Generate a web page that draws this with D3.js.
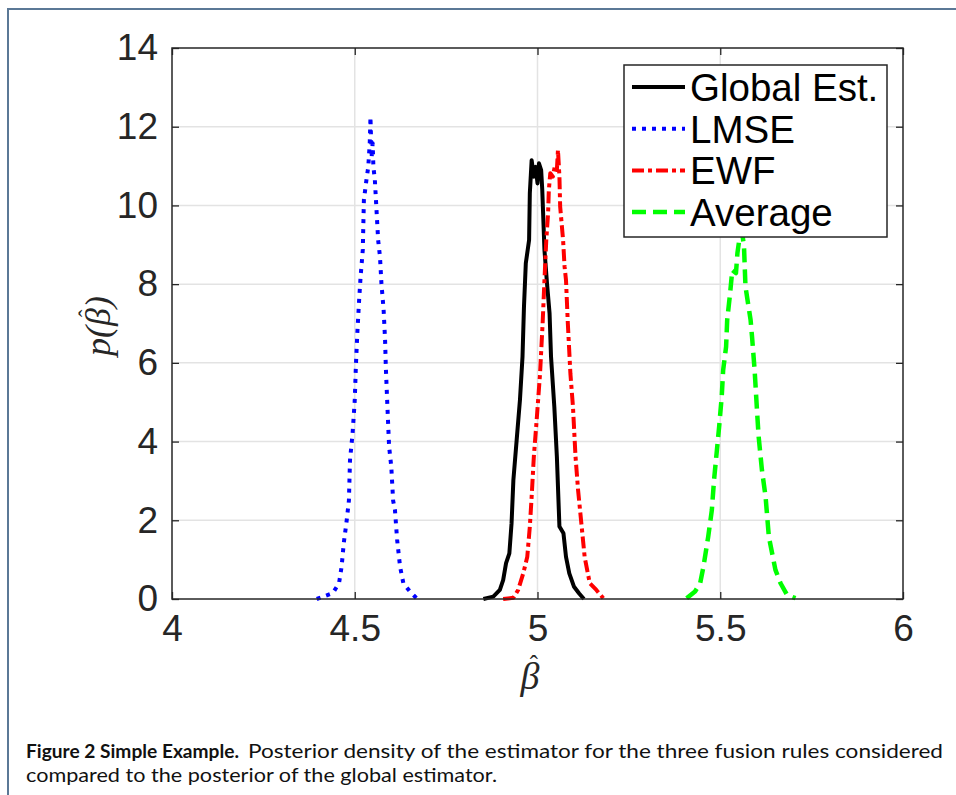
<!DOCTYPE html>
<html>
<head>
<meta charset="utf-8">
<script src="https://cdn.jsdelivr.net/npm/d3@7"></script>
<style>
  body { margin: 0; background: #fff; }
  svg { display: block; }
</style>
</head>
<body>
<div id="chart"></div>
<script>
// values (beta-hat, density)
let globalX = [4.852, 4.879, 4.897, 4.906, 4.914, 4.923, 4.929, 4.934, 4.943, 4.952, 4.959, 4.963, 4.968, 4.977, 4.979, 4.984, 4.990, 4.995, 5.000, 5.004, 5.010, 5.013, 5.019, 5.026, 5.033, 5.037, 5.046, 5.053, 5.060, 5.071, 5.078, 5.087, 5.100, 5.114, 5.127]
let globalY = [0, 0.06, 0.23, 0.48, 0.91, 1.16, 1.92, 3.02, 4.04, 5.06, 6.16, 7.43, 8.53, 9.12, 10.31, 11.15, 10.73, 10.98, 10.56, 11.07, 10.90, 10.40, 8.87, 8.02, 7.26, 6.16, 4.89, 3.62, 1.84, 1.67, 1.07, 0.65, 0.31, 0.14, 0]

let lmseX = [4.396, 4.440, 4.457, 4.464, 4.470, 4.478, 4.484, 4.487, 4.494, 4.500, 4.503, 4.507, 4.512, 4.516, 4.522, 4.525, 4.532, 4.537, 4.541, 4.543, 4.546, 4.549, 4.551, 4.555, 4.558, 4.562, 4.564, 4.569, 4.573, 4.579, 4.583, 4.585, 4.589, 4.594, 4.600, 4.605, 4.610, 4.616, 4.624, 4.633, 4.651, 4.669]
let lmseY = [0, 0.15, 0.40, 0.82, 1.42, 2.00, 2.50, 3.53, 4.20, 5.05, 5.90, 6.75, 7.60, 8.19, 8.87, 10.14, 10.65, 10.98, 11.58, 12.25, 11.20, 11.58, 10.98, 10.65, 10.14, 9.46, 9.12, 8.70, 8.02, 7.34, 6.58, 5.90, 4.97, 3.87, 3.36, 2.50, 2.26, 1.50, 0.82, 0.40, 0.19, 0.02]

let ewfX = [4.906, 4.934, 4.947, 4.961, 4.972, 4.979, 4.984, 4.990, 4.997, 5.007, 5.014, 5.019, 5.024, 5.029, 5.031, 5.035, 5.042, 5.047, 5.053, 5.056, 5.060, 5.062, 5.070, 5.074, 5.078, 5.083, 5.090, 5.097, 5.104, 5.111, 5.120, 5.129, 5.143, 5.161, 5.180]
let ewfY = [0, 0.03, 0.23, 0.65, 1.07, 1.84, 2.60, 3.62, 4.46, 5.73, 7.00, 8.10, 9.12, 9.80, 10.39, 10.82, 10.73, 10.98, 10.90, 11.41, 10.73, 9.97, 9.12, 8.45, 8.10, 7.00, 5.73, 4.89, 3.62, 2.77, 1.92, 1.07, 0.40, 0.23, 0.02]

let avgX = [5.408, 5.431, 5.445, 5.454, 5.467, 5.477, 5.483, 5.490, 5.497, 5.504, 5.508, 5.516, 5.519, 5.527, 5.533, 5.543, 5.547, 5.552, 5.556, 5.565, 5.569, 5.583, 5.587, 5.594, 5.601, 5.605, 5.614, 5.624, 5.633, 5.651, 5.665, 5.683, 5.706]
let avgY = [0.02, 0.19, 0.40, 0.82, 1.58, 2.26, 3.02, 3.70, 4.38, 5.14, 5.82, 6.41, 7.09, 7.77, 8.36, 8.28, 8.79, 9.12, 9.60, 8.95, 7.94, 7.09, 6.66, 5.82, 4.72, 4.13, 3.28, 2.60, 1.58, 0.74, 0.40, 0.10, 0.02]

let seriesNames = ["Global Est.", "LMSE", "EWF", "Average"]
let xTicks = [4, 4.5, 5, 5.5, 6]
let yTicks = [0, 2, 4, 6, 8, 10, 12, 14]

// set the dimensions and margins of the graph
let margin = {top: 48, right: 53, bottom: 196, left: 172},
    width = 956 - margin.left - margin.right,
    height = 795 - margin.top - margin.bottom;

let svg = d3.select("#chart")
  .append("svg")
    .attr("width", 956)
    .attr("height", 795)

// page frame
svg.append("line")
  .attr("x1", 7).attr("x2", 956).attr("y1", 9).attr("y2", 9)
  .attr("stroke", "#5b7896").attr("stroke-width", 2)
svg.append("line")
  .attr("x1", 8).attr("x2", 8).attr("y1", 9).attr("y2", 795)
  .attr("stroke", "#5b7896").attr("stroke-width", 2)

let plot = svg.append("g")
    .attr("transform", "translate(" + margin.left + "," + margin.top + ")");

let x = d3.scaleLinear().domain([4, 6]).range([0, width])
let y = d3.scaleLinear().domain([0, 14]).range([height, 0])

// grid
plot.append("g").selectAll("line")
  .data(xTicks.slice(1, -1))
  .enter().append("line")
    .attr("x1", d => x(d)).attr("x2", d => x(d))
    .attr("y1", 0).attr("y2", height)
    .attr("stroke", "#e3e3e3").attr("stroke-width", 1.5)
plot.append("g").selectAll("line")
  .data(yTicks.slice(1, -1))
  .enter().append("line")
    .attr("x1", 0).attr("x2", width)
    .attr("y1", d => y(d)).attr("y2", d => y(d))
    .attr("stroke", "#e3e3e3").attr("stroke-width", 1.5)

// curves
let line = d3.line().x(d => x(d[0])).y(d => y(d[1]))
let curves = [
  {xs: lmseX, ys: lmseY, color: "#0000ff", dash: "4,6", w: 4},
  {xs: globalX, ys: globalY, color: "#000000", dash: null, w: 4},
  {xs: ewfX, ys: ewfY, color: "#ff0000", dash: "12,4,4,4", w: 4},
  {xs: avgX, ys: avgY, color: "#00ff00", dash: "14,7", w: 4.5}
]
curves.forEach(c => {
  plot.append("path")
    .datum(c.xs.map((v, i) => [v, c.ys[i]]))
    .attr("d", line)
    .attr("fill", "none")
    .attr("stroke", c.color)
    .attr("stroke-width", c.w)
    .attr("stroke-dasharray", c.dash)
    .attr("stroke-linejoin", "round")
})

// axes, ticks pointing inward
let tickFont = "'Liberation Sans', Arial, Helvetica, sans-serif"
plot.append("g")
  .attr("transform", "translate(0," + height + ")")
  .call(d3.axisBottom(x).tickValues(xTicks).tickFormat(d3.format("")).tickSizeInner(-7).tickSizeOuter(0).tickPadding(16))
plot.append("g")
  .call(d3.axisLeft(y).tickValues(yTicks).tickSizeInner(-7).tickSizeOuter(0).tickPadding(14))
plot.append("g")
  .call(d3.axisTop(x).tickValues(xTicks).tickFormat("").tickSizeInner(-7).tickSizeOuter(0))
plot.append("g")
  .attr("transform", "translate(" + width + ",0)")
  .call(d3.axisRight(y).tickValues(yTicks).tickFormat("").tickSizeInner(-7).tickSizeOuter(0))

plot.selectAll(".domain").remove()
plot.selectAll(".tick line").attr("stroke", "#262626").attr("stroke-width", 1.3)
plot.selectAll(".tick text")
  .style("font-family", tickFont)
  .style("font-size", "37px")
  .attr("fill", "#262626")

plot.append("rect")
  .attr("width", width).attr("height", height)
  .attr("fill", "none").attr("stroke", "#262626").attr("stroke-width", 1.5)

// axis labels: beta with a hat tspan moved over it, all in one text
let serif = "'Liberation Serif', 'DejaVu Serif', serif"
function hatLabel(g, before, after, size) {
  let t = g.append("text")
    .style("font-family", serif)
    .style("font-style", "italic")
    .style("font-size", size + "px")
    .attr("fill", "#262626")
  t.append("tspan").text(before)
  t.append("tspan").text("\u03B2")
  let aft = t.append("tspan").text(after)
  let node = t.node()
  let L = node.getComputedTextLength()
  let bi = before.length
  let b0 = node.getStartPositionOfChar(bi).x
  let b1 = node.getEndPositionOfChar(bi).x
  let hat = t.insert("tspan", () => aft.node())
    .style("font-style", "normal")
    .style("font-size", size * 0.64 + "px")
    .text("\u02C6")
  let wh = node.getEndPositionOfChar(bi + 1).x - node.getStartPositionOfChar(bi + 1).x
  let dxh = -(b1 - b0) / 2 - wh / 2 + size * 0.1
  hat.attr("dx", dxh).attr("dy", -size * 0.42)
  aft.attr("dx", -(dxh + wh)).attr("dy", size * 0.42)
  t.attr("x", -L / 2)
}
hatLabel(svg.append("g").attr("transform", "translate(110,326) rotate(-90)"), "p(", ")", 36)
hatLabel(svg.append("g").attr("transform", "translate(530,689)"), "", "", 38)

// legend
let legend = svg.append("g").attr("transform", "translate(624,65)")
legend.append("rect")
  .attr("width", 263).attr("height", 172)
  .attr("fill", "#fff").attr("stroke", "#262626").attr("stroke-width", 1.5)
let legendStyle = [curves[1], curves[0], curves[2], curves[3]]
seriesNames.forEach((name, i) => {
  let cy = 22 + i * 41.7
  legend.append("line")
    .attr("x1", 8).attr("x2", 61).attr("y1", cy).attr("y2", cy)
    .attr("stroke", legendStyle[i].color)
    .attr("stroke-width", legendStyle[i].w)
    .attr("stroke-dasharray", legendStyle[i].dash)
  legend.append("text")
    .attr("x", 66).attr("y", cy).attr("dy", "0.36em")
    .style("font-family", tickFont)
    .style("font-size", "38.5px")
    .attr("fill", "#000")
    .text(name)
})

// caption
let capFont = "Lato, 'Open Sans', sans-serif"
svg.append("text")
  .attr("x", 26).attr("y", 758)
  .attr("textLength", 213).attr("lengthAdjust", "spacingAndGlyphs")
  .style("font-family", capFont).style("font-weight", "bold").style("font-size", "19px")
  .attr("fill", "#111")
  .text("Figure 2 Simple Example.")
svg.append("text")
  .attr("x", 248).attr("y", 758)
  .attr("textLength", 695).attr("lengthAdjust", "spacingAndGlyphs")
  .style("font-family", capFont).style("font-size", "19px")
  .attr("fill", "#111")
  .text("Posterior density of the estimator for the three fusion rules considered")
svg.append("text")
  .attr("x", 26).attr("y", 782)
  .attr("textLength", 471).attr("lengthAdjust", "spacingAndGlyphs")
  .style("font-family", capFont).style("font-size", "19px")
  .attr("fill", "#111")
  .text("compared to the posterior of the global estimator.")
</script>
</body>
</html>
